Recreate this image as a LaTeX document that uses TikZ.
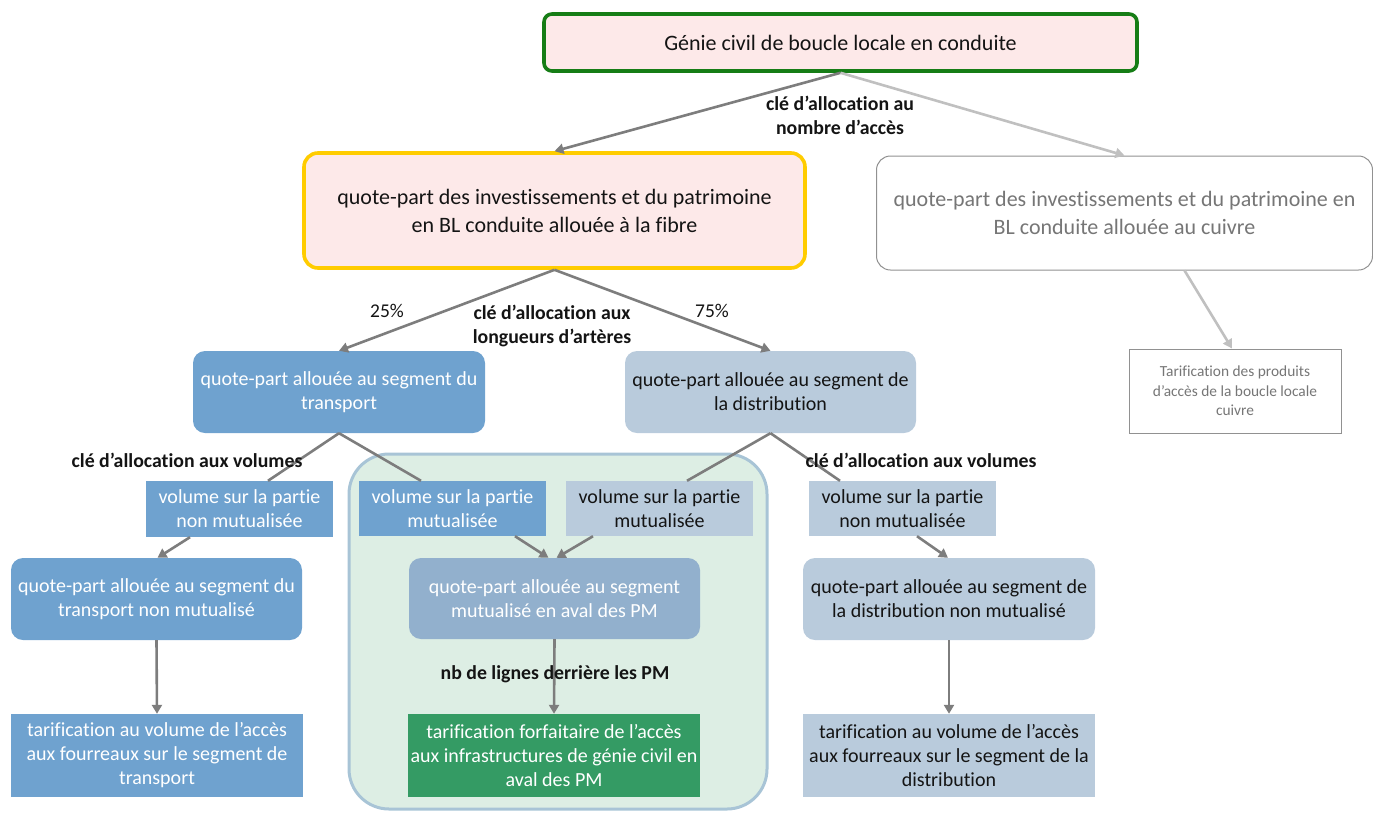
\documentclass[tikz,border=0pt]{standalone}
\usepackage{fontspec}
\setmainfont{Carlito}[Ligatures=NoCommon]
\usetikzlibrary{arrows.meta}
\definecolor{pinkfill}{RGB}{253,233,233}
\definecolor{topgreen}{RGB}{22,125,22}
\definecolor{yellowb}{RGB}{255,204,0}
\definecolor{bluefill}{RGB}{111,162,207}
\definecolor{grayblue}{RGB}{185,203,220}
\definecolor{mutfill}{RGB}{146,176,205}
\definecolor{tgreen}{RGB}{52,155,100}
\definecolor{regionfill}{RGB}{221,238,228}
\definecolor{regionborder}{RGB}{168,196,214}
\definecolor{darkarrow}{RGB}{125,125,125}
\definecolor{lightarrow}{RGB}{192,192,192}
\definecolor{coppertext}{RGB}{118,118,118}
\definecolor{txt}{RGB}{20,20,20}
\tikzset{
  box/.style={align=center, inner sep=0pt, font=\fontsize{20}{24}\selectfont, text=txt},
  bigbox/.style={font=\fontsize{22}{28}\selectfont},
  rbox/.style={box, rounded corners=12pt},
  bluebox/.style={fill=bluefill, text=white},
  graybox/.style={fill=grayblue, text=txt},
  keylabel/.style={font=\fontsize{19.8}{24.5}\selectfont\bfseries, align=center, text=txt, inner sep=0pt},
  pct/.style={font=\fontsize{19.5}{24}\selectfont, text=txt, inner sep=0pt},
  darr/.style={draw=darkarrow, line width=2.6pt, -{Triangle[width=10pt,length=9pt]}},
  larr/.style={draw=lightarrow, line width=2.6pt, -{Triangle[width=10pt,length=9pt]}},
  dline/.style={draw=darkarrow, line width=2.6pt},
}
\begin{document}
\begin{tikzpicture}[x=1pt,y=-1pt]
\useasboundingbox (0,0) rectangle (1373,812);
% green region
\draw[fill=regionfill, draw=regionborder, line width=3pt, rounded corners=40pt] (349,454) rectangle (767,809);

% nodes
\node[rbox, bigbox, fill=pinkfill, draw=topgreen, line width=3.6pt, rounded corners=8pt, minimum width=593pt, minimum height=57pt] (top) at (840.5,42.5) {Génie civil de boucle locale en conduite};
\node[rbox, bigbox, fill=pinkfill, draw=yellowb, line width=3.6pt, rounded corners=14pt, minimum width=501pt, minimum height=115pt] (fiber) at (554.5,210.5) {quote-part des investissements et du patrimoine\\en BL conduite allouée à la fibre};
\node[rbox, bigbox, fill=white, draw=coppertext!80, line width=1pt, rounded corners=14pt, minimum width=496pt, minimum height=114pt, text=coppertext] (copper) at (1124.5,213) {quote-part des investissements et du patrimoine en\\BL conduite allouée au cuivre};
\node[box, fill=white, draw=coppertext!80, line width=1pt, minimum width=212pt, minimum height=84pt, text=coppertext, font=\fontsize{15.4}{19.5}\selectfont] (tarifcu) at (1235,391) {Tarification des produits\\d’accès de la boucle locale\\cuivre};

\node[rbox, bluebox, minimum width=292pt, minimum height=82pt] (transport) at (339,392) {quote-part allouée au segment du\\transport};
\node[rbox, graybox, minimum width=291pt, minimum height=82pt] (distrib) at (770.5,392) {quote-part allouée au segment de\\la distribution};

\node[box, bluebox, minimum width=187pt, minimum height=56pt] (volL) at (239.5,509) {volume sur la partie\\non mutualisée};
\node[box, bluebox, minimum width=187pt, minimum height=55pt] (volMB) at (452.5,508.5) {volume sur la partie\\mutualisée};
\node[box, graybox, minimum width=187pt, minimum height=55pt] (volMG) at (659.5,508.5) {volume sur la partie\\mutualisée};
\node[box, graybox, minimum width=187pt, minimum height=55pt] (volR) at (902.5,508.5) {volume sur la partie\\non mutualisée};

\node[rbox, bluebox, minimum width=291pt, minimum height=82pt] (tnm) at (156.5,599) {quote-part allouée au segment du\\transport non mutualisé};
\node[rbox, fill=mutfill, text=white, minimum width=291pt, minimum height=81pt] (mut) at (554.5,598.5) {quote-part allouée au segment\\mutualisé en aval des PM};
\node[rbox, graybox, minimum width=292pt, minimum height=82pt] (dnm) at (949,599) {quote-part allouée au segment de\\la distribution non mutualisé};

\node[box, bluebox, minimum width=292pt, minimum height=83pt] (b1) at (157,755.5) {tarification au volume de l’accès\\aux fourreaux sur le segment de\\transport};
\node[box, fill=tgreen, text=white, minimum width=292pt, minimum height=83pt] (b2) at (554,755.5) {tarification forfaitaire de l’accès\\aux infrastructures de génie civil en\\aval des PM};
\node[box, graybox, minimum width=292pt, minimum height=83pt] (b3) at (949,755.5) {tarification au volume de l’accès\\aux fourreaux sur le segment de la\\distribution};

% connectors
\draw[darr] (top.south) -- (fiber.north);
\draw[larr] (top.south) -- (copper.north);
\draw[larr] ([xshift=60pt]copper.south) -- ([xshift=-3pt]tarifcu.north);
\draw[darr] (fiber.south) -- (transport.north);
\draw[darr] (fiber.south) -- (distrib.north);

\draw[dline] (transport.south) -- ([xshift=28.5pt]volL.north);
\draw[dline] (transport.south) -- ([xshift=-31.5pt]volMB.north);
\draw[dline] (distrib.south) -- ([xshift=27.5pt]volMG.north);
\draw[dline] (distrib.south) -- ([xshift=-62.5pt]volR.north);

\draw[darr] ([xshift=-49.5pt]volL.south) -- ([xshift=1pt]tnm.north);
\draw[darr] ([xshift=62.5pt]volMB.south) -- ([xshift=-6pt]mut.north);
\draw[darr] ([xshift=-66.5pt]volMG.south) -- ([xshift=2pt]mut.north);
\draw[darr] ([xshift=14.5pt]volR.south) -- ([xshift=-1pt]dnm.north);

\draw[darr] (tnm.south) -- (b1.north);
\draw[darr] (mut.south) -- (b2.north);
\draw[darr] (dnm.south) -- (b3.north);

% labels
\node[keylabel] (k1) at (840,115.5) {clé d’allocation au\\nombre d’accès};
\node[keylabel] (k2) at (552,326) {clé d’allocation aux\\longueurs d’artères};
\node[pct] (p25) at (387,311) {25\%};
\node[pct] (p75) at (712,311) {75\%};
\node[keylabel] (k3) at (187,460) {clé d’allocation aux volumes};
\node[keylabel] (k4) at (921,460) {clé d’allocation aux volumes};
\node[keylabel] (k5) at (555,674) {nb de lignes derrière les PM};
\end{tikzpicture}
\end{document}
